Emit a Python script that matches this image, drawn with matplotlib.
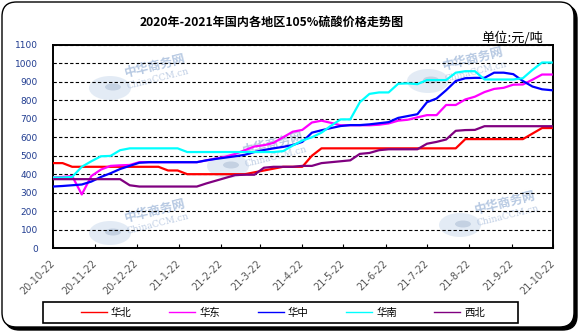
import matplotlib
matplotlib.use("Agg")
import matplotlib.pyplot as plt
from matplotlib.patches import FancyBboxPatch, Rectangle, Ellipse
from matplotlib.lines import Line2D
import pandas as pd

plt.rcParams['font.family'] = ['Noto Sans CJK SC', 'DejaVu Sans']

# ---- data -------------------------------------------------------------
title = "2020年-2021年国内各地区105%硫酸价格走势图"
unit_label = "单位:元/吨"
series_names = ["华北", "华东", "华中", "华南", "西北"]
series_colors = ["#ff0000", "#ff00ff", "#0000ff", "#00ffff", "#800080"]

dates = pd.date_range("2020-10-22", periods=53, freq="7D")

huabei = [460, 460, 440, 440, 440, 440, 440, 440, 440, 440,
          440, 440, 420, 420, 400, 400, 400, 400, 400, 400,
          400, 410, 420, 430, 440, 440, 440, 500, 540, 540,
          540, 540, 540, 540, 540, 540, 540, 540, 540, 540,
          540, 540, 540, 590, 590, 590, 590, 590, 590, 590,
          620, 650, 650]
huadong = [382, 385, 390, 290, 390, 425, 445, 448, 450, 465,
           465, 465, 465, 465, 465, 465, 475, 485, 495, 510,
           530, 550, 557, 570, 600, 630, 640, 680, 690, 678,
           665, 665, 665, 665, 668, 675, 690, 695, 708, 720,
           720, 775, 775, 805, 820, 845, 862, 868, 885, 886,
           912, 940, 940]
huazhong = [333, 336, 340, 344, 360, 385, 405, 428, 445, 462,
            465, 465, 465, 465, 465, 465, 475, 483, 490, 497,
            505, 520, 531, 540, 548, 558, 575, 625, 638, 650,
            661, 666, 666, 670, 676, 682, 705, 715, 725, 790,
            810, 855, 905, 920, 922, 922, 950, 950, 942, 905,
            875, 860, 855]
huanan = [382, 382, 385, 440, 470, 497, 499, 530, 540, 540,
          540, 540, 540, 540, 520, 520, 520, 520, 520, 520,
          520, 520, 520, 520, 525, 555, 582, 600, 625, 663,
          697, 697, 790, 835, 843, 843, 890, 892, 888, 910,
          910, 910, 950, 958, 958, 913, 913, 913, 913, 920,
          965, 1005, 1005]
xibei = [373, 373, 373, 373, 373, 373, 373, 373, 340, 333,
         333, 333, 333, 333, 333, 333, 350, 365, 380, 395,
         397, 397, 435, 440, 440, 440, 445, 445, 460, 465,
         470, 475, 510, 515, 530, 535, 535, 535, 535, 565,
         575, 588, 635, 639, 640, 660, 660, 660, 660, 660,
         660, 660, 660]
series_values = [huabei, huadong, huazhong, huanan, xibei]

tick_dates = pd.date_range("2020-10-22", periods=13, freq=pd.DateOffset(months=1))
tick_labels = ["20-10-22", "20-11-22", "20-12-22", "21-1-22", "21-2-22",
               "21-3-22", "21-4-22", "21-5-22", "21-6-22", "21-7-22",
               "21-8-22", "21-9-22", "21-10-22"]
y_ticks = list(range(0, 1101, 100))

# ---- figure -----------------------------------------------------------
W, H = 580, 331
fig = plt.figure(figsize=(W / 100, H / 100), dpi=100)
fig.patch.set_facecolor("white")


def fx(px):
    return px / W


def fy(py):
    return 1 - py / H


# rounded outer frame with a drop shadow
aspect = W / H
shadow = FancyBboxPatch((fx(5), fy(330)), fx(572), 325 / H,
                        boxstyle="round,pad=0,rounding_size=0.025",
                        mutation_aspect=aspect, transform=fig.transFigure,
                        facecolor="black", edgecolor="black", zorder=-2)
frame = FancyBboxPatch((fx(2), fy(327)), fx(572), 325 / H,
                       boxstyle="round,pad=0,rounding_size=0.025",
                       mutation_aspect=aspect, transform=fig.transFigure,
                       facecolor="white", edgecolor="black", lw=1.0, zorder=-1)
fig.patches.extend([shadow, frame])

ax = fig.add_axes([fx(53), fy(248), fx(553) - fx(53), fy(45) - fy(248)])
ax.set_facecolor("none")


def watermark(cx, cy):
    """Faint site logo: globe plus name, drawn in figure pixels."""
    t = fig.transFigure
    ax.add_patch(Ellipse((fx(cx - 40), fy(cy + 18)), fx(42), 24 / H,
                         transform=t, facecolor="#dde7f3", edgecolor="none",
                         alpha=0.8, zorder=0.2, clip_on=False))
    ax.add_patch(Ellipse((fx(cx - 37), fy(cy + 17)), fx(16), 7 / H,
                         transform=t, facecolor="#9fb3cc", edgecolor="none",
                         alpha=0.45, zorder=0.2, clip_on=False))
    ax.text(fx(cx + 5), fy(cy - 4), "中华商务网", transform=t, rotation=14,
            fontsize=9, fontweight="bold", color="#98b2d6", alpha=0.7,
            ha="center", va="center", zorder=0.3, clip_on=False)
    ax.text(fx(cx + 8), fy(cy + 9), "ChinaCCM.cn", transform=t, rotation=14,
            fontsize=6.5, family="DejaVu Serif", color="#a9bddb", alpha=0.75,
            ha="center", va="center", zorder=0.3, clip_on=False)


for cx, cy in [(150, 70), (268, 148), (468, 63), (500, 207), (150, 215)]:
    watermark(cx, cy)

for name, vals, col in zip(series_names, series_values, series_colors):
    ax.plot(dates, vals, color=col, lw=1.6, label=name, zorder=3,
            solid_joinstyle="round")

ax.set_ylim(0, 1100)
ax.set_yticks(y_ticks)
ax.yaxis.grid(True, color="black", linestyle=(0, (3, 2)), lw=0.8)
ax.set_axisbelow(True)
ax.tick_params(axis="y", length=0, pad=11, labelsize=6.5, labelcolor="#203c90")
for lab in ax.get_yticklabels():
    lab.set_family("DejaVu Sans")

ax.set_xlim(tick_dates[0], tick_dates[-1])
ax.set_xticks(tick_dates)
ax.set_xticklabels(tick_labels)
ax.tick_params(axis="x", direction="in", length=3, width=0.8, pad=10,
               labelsize=7, labelcolor="#555555")
for lab in ax.get_xticklabels():
    lab.set_rotation(45)
    lab.set_ha("right")
    lab.set_va("center")
    lab.set_rotation_mode("anchor")
    lab.set_family("DejaVu Sans")

for sp in ax.spines.values():
    sp.set_color("black")
    sp.set_linewidth(1.4)

fig.text(fx(272), fy(22), title, ha="center", va="center",
         fontsize=8.7, fontweight="bold")
fig.text(fx(512), fy(38), unit_label, ha="center", va="center", fontsize=9.5)

# legend box along the bottom
fig.patches.append(Rectangle((fx(43), fy(323)), fx(518) - fx(43), 21 / H,
                             transform=fig.transFigure, facecolor="none",
                             edgecolor="black", lw=1.2, zorder=2))
handles = [Line2D([], [], color=c, lw=1.0) for c in series_colors]
fig.legend(handles, series_names, loc="center",
           bbox_to_anchor=(fx(283), fy(312.5)), ncol=5, frameon=False,
           handlelength=2.5, handletextpad=0.4, columnspacing=3.6,
           fontsize=7.5, borderpad=0.2)

fig.savefig("out.png", dpi=100)
